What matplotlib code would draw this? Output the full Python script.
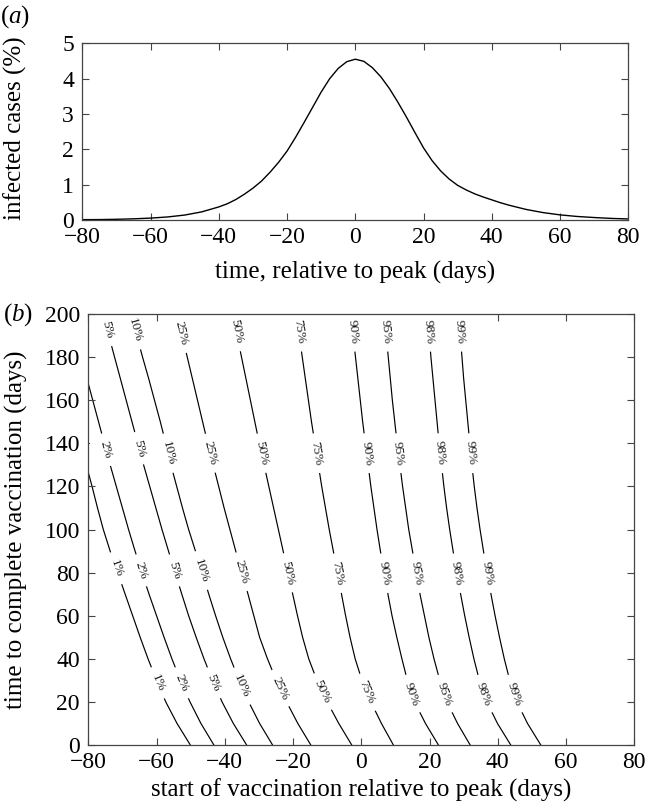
import numpy as np
import matplotlib
matplotlib.use('Agg')
from matplotlib import pyplot as plt

plt.rcParams['font.family'] = ['Liberation Serif', 'DejaVu Serif']
plt.rcParams['mathtext.fontset'] = 'custom'
plt.rcParams['mathtext.rm'] = 'Liberation Serif'
plt.rcParams['mathtext.it'] = 'Liberation Serif:italic'

# (a) epidemic curve
t_days = [-80, -75, -70, -65, -60, -55, -50, -45, -40, -37.5, -35, -32.5, -30,
          -27.5, -25, -22.5, -20, -17.5, -15, -12.5, -10, -7.5, -5, -2.5, 0,
          2.5, 5, 7.5, 10, 12.5, 15, 17.5, 20, 22.5, 25, 27.5,
          30, 32.5, 35, 37.5, 40, 42.5, 45, 47.5, 50, 55, 60, 65, 70, 75, 80]
infected = [0.01, 0.012, 0.02, 0.033, 0.054, 0.086, 0.14, 0.23, 0.37, 0.46, 0.58, 0.73, 0.90,
            1.10, 1.35, 1.63, 1.95, 2.34, 2.76, 3.19, 3.62, 4.00, 4.29, 4.48, 4.55,
            4.49, 4.31, 4.05, 3.72, 3.33, 2.91, 2.47, 2.04, 1.68, 1.39, 1.16,
            0.98, 0.85, 0.74, 0.65, 0.57, 0.49, 0.42, 0.36, 0.30, 0.21, 0.145, 0.10,
            0.07, 0.045, 0.03]

# (b) contour lines: start day (x) for each duration (y)
duration = [0, 10, 20, 30, 40, 50, 60, 70, 80, 90, 100,
            110, 120, 130, 140, 150, 160, 170, 180, 190, 200]
nan = np.nan
levels = ['1%', '2%', '5%', '10%', '25%', '50%', '75%', '90%', '95%', '98%', '99%']
start_1 = [-50.1, -54.0, -57.3, -60.0, -62.5, -64.8, -67.0, -69.2, -71.4, -73.6, -75.6,
           -77.3, -78.9, -80.6, nan, nan, nan, nan, nan, nan, nan]
start_2 = [-43.2, -47.0, -50.2, -53.0, -55.5, -57.8, -60.0, -62.2, -64.3, -66.3, -68.2,
           -70.0, -71.8, -73.6, -75.3, -77.0, -78.7, -80.4, nan, nan, nan]
start_5 = [-33.6, -37.5, -40.8, -43.6, -46.1, -48.4, -50.6, -52.6, -54.6, -56.5, -58.4,
           -60.2, -62.0, -63.8, -65.5, -67.2, -68.9, -70.6, -72.3, -74.0, -75.7]
start_10 = [-26.0, -29.8, -33.0, -35.8, -38.3, -40.6, -42.7, -44.7, -46.6, -48.6, -50.6,
            -52.4, -54.1, -55.8, -57.3, -58.9, -60.6, -62.3, -64.1, -65.8, -67.5]
start_25 = [-14.8, -18.6, -21.9, -24.9, -27.5, -29.8, -31.5, -33.2, -35.0, -36.8, -38.5,
            -40.2, -41.8, -43.4, -45.0, -46.5, -48.0, -49.5, -51.0, -52.5, -54.0]
start_50 = [-2.8, -6.6, -10.0, -13.0, -15.4, -17.2, -18.7, -20.1, -21.5, -22.9, -24.3,
            -25.7, -27.1, -28.5, -29.9, -31.2, -32.5, -33.8, -35.1, -36.4, -37.7]
start_75 = [9.4, 5.9, 2.8, 0.2, -1.8, -3.3, -4.6, -5.8, -7.0, -8.2, -9.4,
            -10.5, -11.6, -12.6, -13.6, -14.6, -15.5, -16.4, -17.3, -18.2, -19.1]
start_90 = [22.6, 18.8, 15.6, 13.5, 11.9, 10.4, 9.0, 7.8, 6.7, 5.6, 4.6,
            3.7, 2.8, 2.0, 1.2, 0.4, -0.3, -1.0, -1.7, -2.4, -3.1]
start_95 = [31.9, 28.2, 25.1, 23.0, 21.3, 19.8, 18.5, 17.2, 16.1, 15.0, 13.9,
            13.0, 12.1, 11.3, 10.5, 9.8, 9.1, 8.5, 7.9, 7.3, 6.7]
start_98 = [43.8, 39.9, 36.8, 34.6, 33.0, 31.6, 30.3, 29.1, 28.0, 26.9, 25.9,
            25.0, 24.2, 23.5, 22.8, 22.2, 21.6, 21.0, 20.4, 19.9, 19.4]
start_99 = [52.6, 48.7, 45.6, 43.5, 41.9, 40.5, 39.2, 38.0, 36.9, 35.8, 34.8,
            33.9, 33.1, 32.4, 31.8, 31.2, 30.6, 30.0, 29.5, 29.0, 28.5]
starts = [start_1, start_2, start_5, start_10, start_25, start_50,
          start_75, start_90, start_95, start_98, start_99]
# where the inline labels sit along each line (duration, days)
label_rows = [[82, 28.8], [137, 81, 28.8], [192.6, 137.7, 81, 28.8],
              [192.6, 135.4, 81, 27.3], [191, 135.4, 80.4, 26.3],
              [191.8, 135.4, 79.9, 24.7], [191.8, 135.4, 79.7, 24.4],
              [191.8, 135.4, 79.7, 23.7], [191.8, 135.4, 79.7, 23.7],
              [191.8, 135.4, 79.7, 23.7], [191.8, 135.4, 79.7, 23.7]]

xticks = np.arange(-80, 81, 20)
spine_col = '#444444'
tick_fs = 17
label_fs = 18


def style_axes(ax):
    for s in ax.spines.values():
        s.set_color(spine_col)
        s.set_linewidth(0.9)
    ax.tick_params(direction='in', top=True, right=True, length=5, width=0.8,
                   color=spine_col, labelsize=tick_fs)
    ax.tick_params(axis='x', pad=5)
    ax.tick_params(axis='y', pad=6)


fig = plt.figure(figsize=(6.46, 8.11), dpi=100)

# ---- panel (a)
ax1 = fig.add_axes([82.3 / 646, 1 - 220 / 811, 546 / 646, 176.7 / 811])
ax1.plot(t_days, infected, color='black', lw=1.0)
ax1.set_xlim(-80, 80)
ax1.set_ylim(0, 5)
ax1.set_xticks(xticks)
ax1.set_yticks(range(0, 6))
style_axes(ax1)
fig.text(355 / 646, 1 - 272 / 811, 'time, relative to peak (days)', fontsize=label_fs,
         ha='center', va='center')
fig.text(15 / 646, 1 - 128 / 811, 'infected cases (%)', fontsize=label_fs,
         rotation=90, ha='center', va='center')
fig.text(15 / 646, 1 - 17 / 811, r'($\mathit{a}$)', fontsize=label_fs,
         ha='center', va='center')

# ---- panel (b)
ax2 = fig.add_axes([88.3 / 646, 1 - 745 / 811, 546 / 646, 431 / 811])
ax2.set_xlim(-80, 80)
ax2.set_ylim(0, 200)
ax2.set_xticks(xticks)
ax2.set_yticks(range(0, 201, 20))
style_axes(ax2)

for lev, xs, rows in zip(levels, starts, label_rows):
    ax2.plot(xs, duration, color='black', lw=0.85, zorder=1.5)
    xs_ok = np.array(xs, dtype=float)
    for y in rows:
        x = np.interp(y, duration, xs_ok)
        p_hi = ax2.transData.transform((np.interp(y + 5, duration, xs_ok), y + 5))
        p_lo = ax2.transData.transform((np.interp(y - 5, duration, xs_ok), y - 5))
        d = p_lo - p_hi
        ang = np.degrees(np.arctan2(d[1], d[0]))
        ax2.text(x, y, lev, fontsize=9.5, rotation=ang, rotation_mode='anchor',
                 ha='center', va='center', color='#1a1a1a', zorder=2,
                 bbox=dict(boxstyle='square,pad=0.6', fc='white', ec='none'))

fig.text(361 / 646, 1 - 790 / 811, 'start of vaccination relative to peak (days)',
         fontsize=label_fs, ha='center', va='center')
fig.text(16 / 646, 1 - 530 / 811, 'time to complete vaccination (days)', fontsize=label_fs,
         rotation=90, ha='center', va='center')
fig.text(18 / 646, 1 - 315 / 811, r'($\mathit{b}$)', fontsize=label_fs,
         ha='center', va='center')

fig.savefig('out.png', dpi=100)
